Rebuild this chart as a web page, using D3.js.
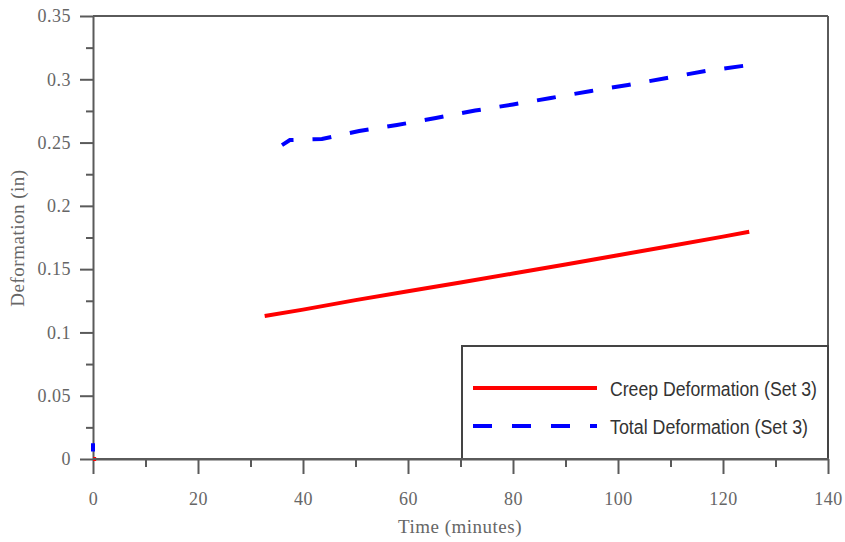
<!DOCTYPE html>
<html><head><meta charset="utf-8">
<script src="https://cdn.jsdelivr.net/npm/d3@7"></script>
<style>body{margin:0;background:#fff}svg{display:block}</style>
</head><body>
<svg id="c" width="845" height="542"></svg>
<script>
// Data
const creepTime  = [0, 0.6, null, 32.7, 40, 50, 60, 70, 80, 90, 100, 110, 120, 125];
const creepValue = [0, 0, null, 0.113, 0.118, 0.1255, 0.1325, 0.1395, 0.1465, 0.1537, 0.161, 0.1683, 0.1757, 0.1795];
const totalTime  = [0, 0, null, 36, 37.5, 43.6, 50.7, 57.9, 65.3, 72.8, 80, 87.2, 94.9, 101.9, 109.3, 116.7, 125.1];
const totalValue = [0.006, 0.0125, null, 0.248, 0.252, 0.2528, 0.2591, 0.2639, 0.2694, 0.2753, 0.2801, 0.2852, 0.2908, 0.2955, 0.301, 0.3066, 0.3113];
const xTicks = [0, 20, 40, 60, 80, 100, 120, 140];
const yTicks = [0, 0.05, 0.1, 0.15, 0.2, 0.25, 0.3, 0.35];
const legendLabels = ["Creep Deformation (Set 3)", "Total Deformation (Set 3)"];

const svg = d3.select("#c");
const L = 93, R = 828, T = 16, B = 459;
const x = d3.scaleLinear().domain([0, 140]).range([L, R]);
const y = d3.scaleLinear().domain([0, 0.35]).range([B, T]);
const axisCol = "#5a5a5a", labCol = "#666";
const serif = "Liberation Serif, Times New Roman, serif";

// minor ticks
const xMinor = d3.range(10, 140, 20), yMinor = d3.range(0.025, 0.35, 0.05);

// frame top & right
svg.append("line").attr("x1", L).attr("x2", R).attr("y1", T).attr("y2", T).attr("stroke", axisCol).attr("stroke-width", 2);
svg.append("line").attr("x1", R).attr("x2", R).attr("y1", T).attr("y2", B).attr("stroke", axisCol).attr("stroke-width", 2);

// bottom axis
svg.append("g").attr("transform", `translate(0,${B})`)
  .call(d3.axisBottom(x).tickValues(xTicks).tickSize(15).tickSizeOuter(0).tickPadding(18).tickFormat(d3.format("d")));
svg.append("g").attr("transform", `translate(0,${B})`)
  .call(d3.axisBottom(x).tickValues(xMinor).tickSize(8).tickSizeOuter(0).tickFormat(""))
  .select(".domain").remove();
// left axis
svg.append("g").attr("transform", `translate(${L},0)`)
  .call(d3.axisLeft(y).tickValues(yTicks).tickSize(13).tickSizeOuter(0).tickPadding(9).tickFormat(d => d === 0 ? "0" : String(+d.toFixed(2))));
svg.append("g").attr("transform", `translate(${L},0)`)
  .call(d3.axisLeft(y).tickValues(yMinor).tickSize(7).tickSizeOuter(0).tickFormat(""))
  .select(".domain").remove();

svg.selectAll(".domain").attr("stroke", axisCol).attr("stroke-width", 2);
svg.selectAll(".tick line").attr("stroke", axisCol).attr("stroke-width", 2);
svg.selectAll(".tick text").attr("fill", labCol).attr("font-family", serif).attr("font-size", 18).attr("letter-spacing", 0.5);

// axis titles
svg.append("text").attr("x", 460).attr("y", 533).attr("text-anchor", "middle")
  .attr("font-family", serif).attr("font-size", 19).attr("letter-spacing", 0.5).attr("fill", labCol).text("Time (minutes)");
svg.append("text").attr("transform", "translate(24,238) rotate(-90)").attr("text-anchor", "middle")
  .attr("font-family", serif).attr("font-size", 19).attr("letter-spacing", 0.5).attr("fill", labCol).text("Deformation (in)");

// lines
const mk = (ts, vs) => ts.map((t, i) => ({t, v: vs[i]}));
const line = d3.line().defined(d => d.t !== null && d.v !== null).x(d => x(d.t)).y(d => y(d.v));
svg.append("path").datum(mk(totalTime, totalValue)).attr("d", line)
  .attr("fill", "none").attr("stroke", "#0000ff").attr("stroke-width", 4)
  .attr("stroke-dasharray", "19,19").attr("stroke-dashoffset", 6);
svg.append("path").datum(mk(creepTime, creepValue)).attr("d", line)
  .attr("fill", "none").attr("stroke", "#ff0000").attr("stroke-width", 4);

// legend
const lg = svg.append("g");
lg.append("rect").attr("x", 462).attr("y", 346).attr("width", R - 462).attr("height", B - 346)
  .attr("fill", "#fff").attr("stroke", "#444").attr("stroke-width", 2);
const ly = [388, 426];
lg.append("line").attr("x1", 473).attr("x2", 597).attr("y1", ly[0]).attr("y2", ly[0]).attr("stroke", "#ff0000").attr("stroke-width", 4);
lg.append("line").attr("x1", 473).attr("x2", 597).attr("y1", ly[1]).attr("y2", ly[1]).attr("stroke", "#0000ff").attr("stroke-width", 4).attr("stroke-dasharray", "19,20");
const tw = [207, 198];
legendLabels.forEach((s, i) => {
  lg.append("text").attr("x", 610).attr("y", ly[i] + 8).attr("font-family", "Liberation Sans Narrow, Arial Narrow, Liberation Sans, Arial, sans-serif")
    .attr("font-size", 20).attr("fill", "#333").attr("textLength", tw[i]).attr("lengthAdjust", "spacingAndGlyphs").text(s);
});
// redraw bottom border over legend
svg.append("line").attr("x1", L).attr("x2", R + 1).attr("y1", B).attr("y2", B).attr("stroke", axisCol).attr("stroke-width", 2);
</script>
</body></html>
